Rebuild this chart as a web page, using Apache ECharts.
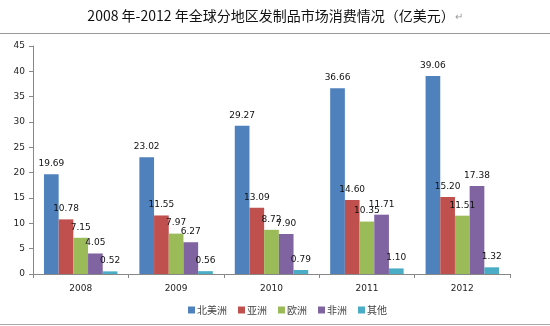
<!DOCTYPE html>
<html><head><meta charset="utf-8">
<script src="https://cdn.jsdelivr.net/npm/echarts@6/dist/echarts.min.js"></script>
<style>html,body{margin:0;padding:0;background:#fff}#c{width:550px;height:326px}</style>
</head><body><div id="c"></div>
<script>
var categories = ['2008', '2009', '2010', '2011', '2012'];
var seriesNames = ['北美洲', '亚洲', '欧洲', '非洲', '其他'];
var northAmerica = [19.69, 23.02, 29.27, 36.66, 39.06];
var asia = [10.78, 11.55, 13.09, 14.60, 15.20];
var europe = [7.15, 7.97, 8.72, 10.35, 11.51];
var africa = [4.05, 6.27, 7.90, 11.71, 17.38];
var others = [0.52, 0.56, 0.79, 1.10, 1.32];
var colors = ['#4F81BD', '#C0504D', '#9BBB59', '#8064A2', '#4BACC6'];
var allData = [northAmerica, asia, europe, africa, others];

var chart = echarts.init(document.getElementById('c'));
chart.setOption({
  animation: false,
  title: {
    text: '2008 年-2012 年全球分地区发制品市场消费情况（亿美元）{r|↵}',
    left: 'center', top: 4,
    textStyle: { fontFamily: 'Noto Sans CJK SC', fontSize: 14, fontWeight: 'normal', color: '#111',
      rich: { r: { fontSize: 10, color: '#999' } } }
  },
  graphic: [
    { type: 'line', shape: { x1: 0, y1: 33.5, x2: 550, y2: 33.5 }, style: { stroke: '#999', lineWidth: 1 } },
    { type: 'line', shape: { x1: 0, y1: 324.5, x2: 550, y2: 324.5 }, style: { stroke: '#aaa', lineWidth: 1 } }
  ],
  legend: {
    data: seriesNames, bottom: 6, left: 183,
    icon: 'rect', itemWidth: 7, itemHeight: 7, itemGap: 11,
    textStyle: { fontFamily: 'Noto Sans CJK SC', fontSize: 10, color: '#444', padding: [0, 0, 0, -3] }
  },
  grid: { left: 33, right: 40, top: 46, bottom: 52, containLabel: false },
  xAxis: {
    type: 'category', data: categories,
    axisLine: { lineStyle: { color: '#888' } },
    axisTick: { show: true, length: 4, lineStyle: { color: '#888' } },
    axisLabel: { fontFamily: 'DejaVu Sans', fontSize: 9, color: '#222', margin: 10 }
  },
  yAxis: {
    type: 'value', min: 0, max: 45, interval: 5,
    splitLine: { show: false },
    axisLine: { show: true, lineStyle: { color: '#888' } },
    axisTick: { show: true, length: 4, lineStyle: { color: '#888' } },
    axisLabel: { fontFamily: 'DejaVu Sans', fontSize: 9, color: '#222', margin: 8 }
  },
  series: seriesNames.map(function (n, i) {
    return {
      name: n, type: 'bar', data: allData[i],
      barGap: '0%', barCategoryGap: '23%',
      itemStyle: { color: colors[i] },
      label: { show: true, position: 'top', distance: 6, fontFamily: 'DejaVu Sans', fontSize: 9, color: '#111',
        formatter: function (p) { return p.value.toFixed(2); } }
    };
  })
});
</script></body></html>
